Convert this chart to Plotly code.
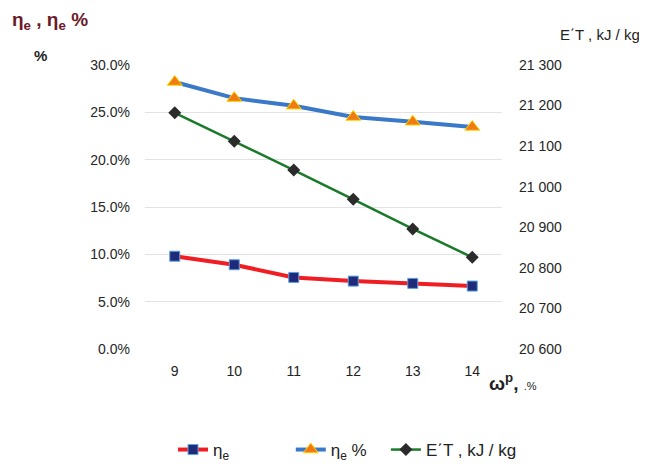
import plotly.graph_objects as go

x_vals = [9, 10, 11, 12, 13, 14]
eta_e = [0.098, 0.089, 0.0756, 0.0717, 0.0693, 0.0665]
eta_e_pct = [0.282, 0.265, 0.257, 0.245, 0.240, 0.2345]
et_vals = [21182, 21112, 21041, 20969, 20896, 20826]

left_ticks = [0.0, 0.05, 0.10, 0.15, 0.20, 0.25, 0.30]
left_labels = ["0.0%", "5.0%", "10.0%", "15.0%", "20.0%", "25.0%", "30.0%"]
right_ticks = [20600, 20700, 20800, 20900, 21000, 21100, 21200, 21300]
right_labels = ["20 600", "20 700", "20 800", "20 900", "21 000", "21 100", "21 200", "21 300"]

FONT = "Liberation Sans"
NB = "\u00a0"
fig = go.Figure()
fig.add_trace(go.Scatter(
    x=x_vals, y=eta_e, name="η<sub>e</sub>" + NB * 12, mode="lines+markers",
    line=dict(color="#f01e23", width=4),
    marker=dict(symbol="square", size=10, color="#1f2a78", line=dict(color="#5aa0e0", width=1)),
))
fig.add_trace(go.Scatter(
    x=x_vals, y=eta_e_pct, name="η<sub>e</sub> %" + NB * 3, mode="lines+markers",
    line=dict(color="#3a78c8", width=4),
    marker=dict(symbol="triangle-up", size=13, color="#f07a14", line=dict(color="#ffd700", width=1)),
))
fig.add_trace(go.Scatter(
    x=x_vals, y=et_vals, name="E΄T , kJ / kg", mode="lines+markers", yaxis="y2",
    line=dict(color="#1a7a2a", width=2.5),
    marker=dict(symbol="diamond", size=10, color="#2b2b2b"),
))

# the page body has an 8px margin, so the figure is drawn 8px in from the corner
OFF = 8
fig.update_layout(
    width=647 - OFF, height=466 - OFF,
    margin=dict(l=145 - OFF, r=145, t=65 - OFF, b=117, autoexpand=False),
    paper_bgcolor="white", plot_bgcolor="white",
    font=dict(family=FONT, size=14, color="#262626"),
    showlegend=True,
    legend=dict(orientation="h", xref="container", yref="container",
                x=(173 - OFF) / (647 - OFF), y=1 - (450 - OFF) / (466 - OFF),
                xanchor="left", yanchor="middle",
                font=dict(family=FONT, size=17, color="#222222"),
                entrywidth=0, itemwidth=30, tracegroupgap=0),
    xaxis=dict(tickmode="array", tickvals=x_vals, ticktext=[str(v) for v in x_vals],
               range=[8.5, 14.5], showgrid=False, zeroline=False, showline=False,
               ticklabelstandoff=12,
               tickfont=dict(family=FONT, size=14, color="#222222")),
    yaxis=dict(range=[0, 0.30], tickmode="array", tickvals=left_ticks, ticktext=left_labels,
               showgrid=True, gridcolor="#e3e3e3", gridwidth=1, zeroline=False, showline=False,
               ticks="", ticklen=0, ticklabelstandoff=14,
               tickfont=dict(family=FONT, size=14, color="#262626")),
    yaxis2=dict(range=[20600, 21300], overlaying="y", side="right", tickmode="array",
                tickvals=right_ticks, ticktext=right_labels, showgrid=False, zeroline=False,
                showline=False, ticklabelstandoff=16,
                tickfont=dict(family=FONT, size=14, color="#262626")),
    annotations=[
        dict(text="<b>η<sub>e</sub> , η<sub>e</sub> %</b>", x=10, y=21, showarrow=False,
             xanchor="left", yanchor="middle", font=dict(size=19, color="#6b1a2a")),
        dict(text="<b>%</b>", x=40, y=56, showarrow=False, xanchor="center", yanchor="middle",
             font=dict(size=15, color="#222222")),
        dict(text="E΄T , kJ / kg", x=642, y=34, showarrow=False, xanchor="right", yanchor="middle",
             font=dict(size=15, color="#222222")),
        dict(text="<b>ω<sup>p</sup>, </b><span style='font-size:11px'>.%</span>", x=487, y=382,
             showarrow=False, xanchor="left", yanchor="middle",
             font=dict(size=19, color="#222222")),
    ],
)
for a in fig.layout.annotations:
    a.xref = "paper"
    a.yref = "paper"
    px_x, px_y = a.x, a.y
    a.x = (px_x - 145) / 357
    a.y = (349 - px_y) / 284

fig.write_html("out.html")
